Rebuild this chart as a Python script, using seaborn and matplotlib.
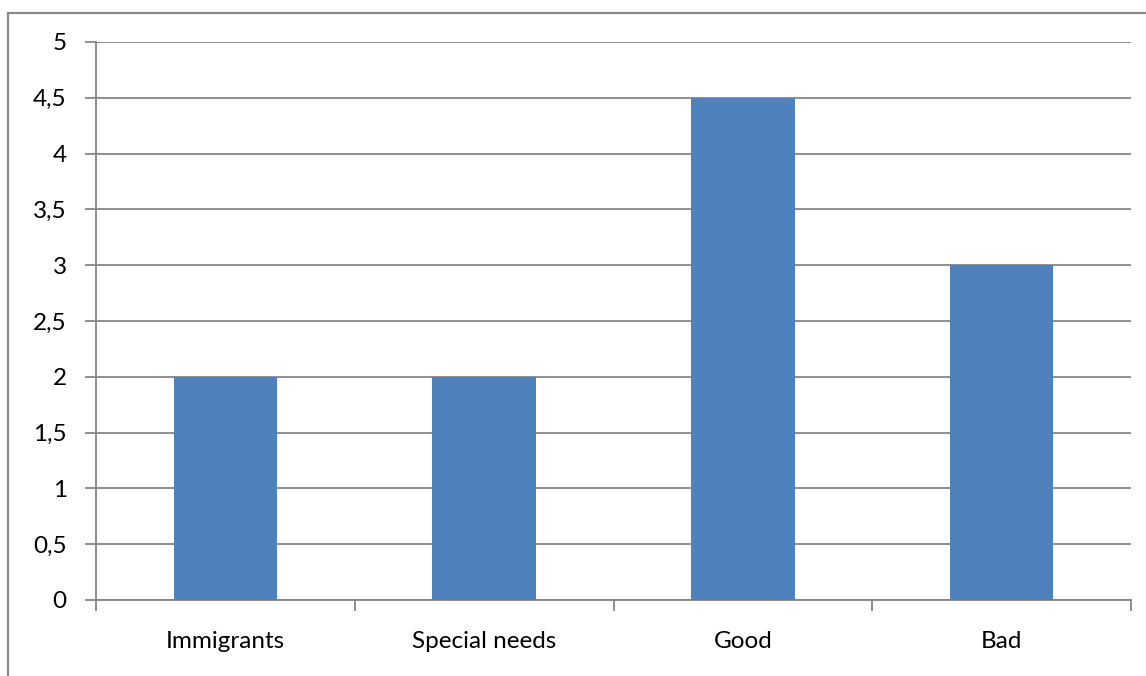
import matplotlib
matplotlib.use("Agg")
import matplotlib.pyplot as plt
import seaborn as sns
import pandas as pd
from matplotlib.lines import Line2D

categories = ["Immigrants", "Special needs", "Good", "Bad"]
values = [2, 2, 4.5, 3]
yticks = [0, 0.5, 1, 1.5, 2, 2.5, 3, 3.5, 4, 4.5, 5]
ytick_labels = ["0", "0,5", "1", "1,5", "2", "2,5", "3", "3,5", "4", "4,5", "5"]

sns.set_style("white")
plt.rcParams["font.family"] = ["Lato", "DejaVu Sans"]

df = pd.DataFrame({"category": categories, "value": values})

W, H = 1146, 676
fig = plt.figure(figsize=(W / 100, H / 100), dpi=100)
ax = fig.add_axes([96 / W, 1 - 600 / H, (1131 - 96) / W, (600 - 42) / H])

sns.barplot(data=df, x="category", y="value", color="#4F81BD", saturation=1,
            width=0.4, ax=ax, zorder=3, linewidth=0, edgecolor="none")

grid_c = "#868686"
ax.set_ylim(0, 5)
ax.set_xlim(-0.5, len(categories) - 0.5)
ax.set_yticks(yticks)
ax.set_yticklabels(ytick_labels)
ax.yaxis.grid(True, color=grid_c, linewidth=1.3, zorder=0)
ax.set_axisbelow(True)
ax.set_xlabel("")
ax.set_ylabel("")

for s in ["top", "right"]:
    ax.spines[s].set_visible(False)
for s in ["left", "bottom"]:
    ax.spines[s].set_color(grid_c)
    ax.spines[s].set_linewidth(1.3)

ax.set_xticks([i - 0.5 for i in range(len(categories) + 1)], minor=True)
ax.set_xticks(range(len(categories)))
ax.set_xticklabels(categories)
ax.tick_params(axis="x", which="major", bottom=True, length=0, pad=22, labelsize=17.5,
               labelcolor="black")
ax.tick_params(axis="x", which="minor", bottom=True, length=8, width=1.3, color=grid_c,
               direction="out")
ax.tick_params(axis="y", left=True, length=8, width=1.3, color=grid_c, direction="out",
               pad=13, labelsize=17.5, labelcolor="black")

# outer chart frame (partially cropped)
fc = "#8A8A8A"
fig.add_artist(Line2D([8 / W, 8 / W], [0, 1 - 13 / H], color=fc, linewidth=1.6,
                      transform=fig.transFigure))
fig.add_artist(Line2D([8 / W, 1], [1 - 13 / H, 1 - 13 / H], color=fc, linewidth=1.6,
                      transform=fig.transFigure))

fig.savefig("out.png", dpi=100)
